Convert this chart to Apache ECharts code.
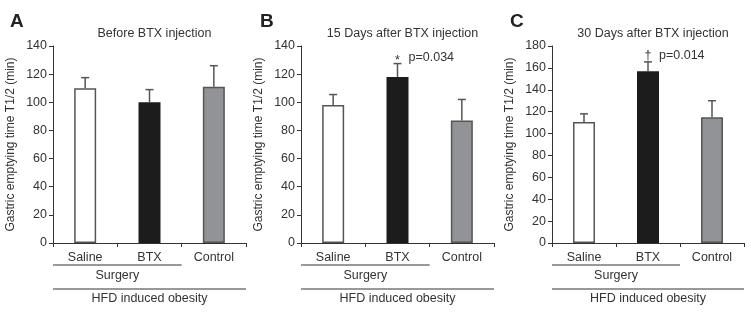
<!DOCTYPE html>
<html>
<head>
<meta charset="utf-8">
<script src="https://cdn.jsdelivr.net/npm/echarts@6/dist/echarts.min.js"></script>
<style>
html,body{margin:0;padding:0;background:#fff;}
#main{width:751px;height:312px;}
</style>
</head>
<body>
<div id="main"></div>
<script>
var categories = ['Saline', 'BTX', 'Control'];
var panelTitles = ['Before BTX injection', '15 Days after BTX injection', '30 Days after BTX injection'];
var panelLetters = ['A', 'B', 'C'];
//均值
var beforeMean = [110, 100, 111];
var day15Mean = [98, 118, 87];
var day30Mean = [110.5, 157, 115];
//误差（向上）
var beforeErr = [7.5, 9, 15];
var day15Err = [7.5, 9.5, 15];
var day30Err = [7.5, 8.5, 15];
//y轴
var yMax = [140, 140, 180];
var yStep = 20;
//显著性标注
var sigMarks = [null, '*', '\u2020'];
var sigTexts = [null, 'p=0.034', 'p=0.014'];
var sigValue = [null, 132, 171];

var barColors = ['#ffffff', '#1c1c1c', '#929396'];
var txt = '#333';
var font = 'Liberation Sans, Arial, sans-serif';
var grids = [
	{left: 53, top: 46, width: 193, height: 197},
	{left: 301, top: 46, width: 193, height: 197},
	{left: 552, top: 46, width: 192, height: 197}
];
var means = [beforeMean, day15Mean, day30Mean];
var errs = [beforeErr, day15Err, day30Err];

var chart = echarts.init(document.getElementById('main'));

var xAxes = [], yAxes = [], series = [], titles = [];
for (var p = 0; p < 3; p++) {
	xAxes.push({
		type: 'category',
		gridIndex: p,
		data: categories,
		axisLine: {lineStyle: {color: '#333', width: 1}},
		axisTick: {show: true, length: 4, lineStyle: {color: '#333'}},
		axisLabel: {color: txt, fontSize: 12.5, fontFamily: font, margin: 8}
	});
	yAxes.push({
		type: 'value',
		gridIndex: p,
		min: 0,
		max: yMax[p],
		interval: yStep,
		name: 'Gastric emptying time T1/2 (min)',
		nameLocation: 'middle',
		nameGap: 36,
		nameTextStyle: {color: txt, fontSize: 12, fontFamily: font},
		axisLine: {show: true, lineStyle: {color: '#333', width: 1}},
		axisTick: {show: true, length: 4, lineStyle: {color: '#333'}},
		axisLabel: {color: txt, fontSize: 12.5, fontFamily: font, margin: 6},
		splitLine: {show: false}
	});
	var barData = means[p].map(function (v, i) {
		return {value: v, itemStyle: {color: barColors[i], borderColor: i == 1 ? '#1c1c1c' : '#555', borderWidth: 1.5}};
	});
	series.push({
		type: 'bar',
		xAxisIndex: p,
		yAxisIndex: p,
		barWidth: 22,
		data: barData,
		z: 2
	});
	var errData = means[p].map(function (v, i) { return [i, v, v + errs[p][i]]; });
	series.push({
		type: 'custom',
		xAxisIndex: p,
		yAxisIndex: p,
		data: errData,
		z: 3,
		renderItem: function (params, api) {
			var lo = api.coord([api.value(0), api.value(1)]);
			var hi = api.coord([api.value(0), api.value(2)]);
			var st = {stroke: '#555', lineWidth: 1.5};
			return {
				type: 'group',
				children: [
					{type: 'line', shape: {x1: lo[0], y1: lo[1], x2: hi[0], y2: hi[1]}, style: st},
					{type: 'line', shape: {x1: hi[0] - 4, y1: hi[1], x2: hi[0] + 4, y2: hi[1]}, style: st}
				]
			};
		}
	});
	titles.push({
		text: panelTitles[p],
		left: grids[p].left + grids[p].width / 2,
		top: 22,
		textAlign: 'center',
		textStyle: {color: txt, fontSize: 12.5, fontWeight: 'normal', fontFamily: font}
	});
	titles.push({
		text: panelLetters[p],
		left: [5, 255, 505][p],
		top: 7,
		textStyle: {color: '#222', fontSize: 19, fontWeight: 'bold', fontFamily: font}
	});
}

chart.setOption({
	animation: false,
	title: titles,
	grid: grids,
	xAxis: xAxes,
	yAxis: yAxes,
	series: series
});

//括号线与标注
var gfx = [];
for (var p = 0; p < 3; p++) {
	var c0 = chart.convertToPixel({xAxisIndex: p}, 0);
	var c1 = chart.convertToPixel({xAxisIndex: p}, 1);
	var c2 = chart.convertToPixel({xAxisIndex: p}, 2);
	var band = c1 - c0;
	var xl = c0 - band / 2, xs = c1 + band / 2, xr = c2 + band / 2;
	var base = chart.convertToPixel({yAxisIndex: p}, 0);
	var ls = {stroke: '#333', lineWidth: 1};
	var ts = {fill: txt, fontSize: 12.5, fontFamily: font, align: 'center', verticalAlign: 'middle'};
	gfx.push({type: 'line', shape: {x1: xl, y1: base + 22, x2: xs, y2: base + 22}, style: ls});
	gfx.push({type: 'text', x: (c0 + c1) / 2, y: base + 33, style: echarts.util.extend({text: 'Surgery'}, ts)});
	gfx.push({type: 'line', shape: {x1: xl, y1: base + 46, x2: xr, y2: base + 46}, style: ls});
	gfx.push({type: 'text', x: (xl + xr) / 2, y: base + 56, style: echarts.util.extend({text: 'HFD induced obesity'}, ts)});
	if (sigMarks[p]) {
		var sy = chart.convertToPixel({yAxisIndex: p}, sigValue[p]);
		gfx.push({type: 'text', x: c1, y: sy + (p == 1 ? 3 : 0), style: echarts.util.extend({text: sigMarks[p]}, ts)});
		gfx.push({type: 'text', x: c1 + 11, y: sy, style: {text: sigTexts[p], fill: txt, fontSize: 12.5, fontFamily: font, align: 'left', verticalAlign: 'middle'}});
	}
}
chart.setOption({graphic: gfx});
</script>
</body>
</html>
